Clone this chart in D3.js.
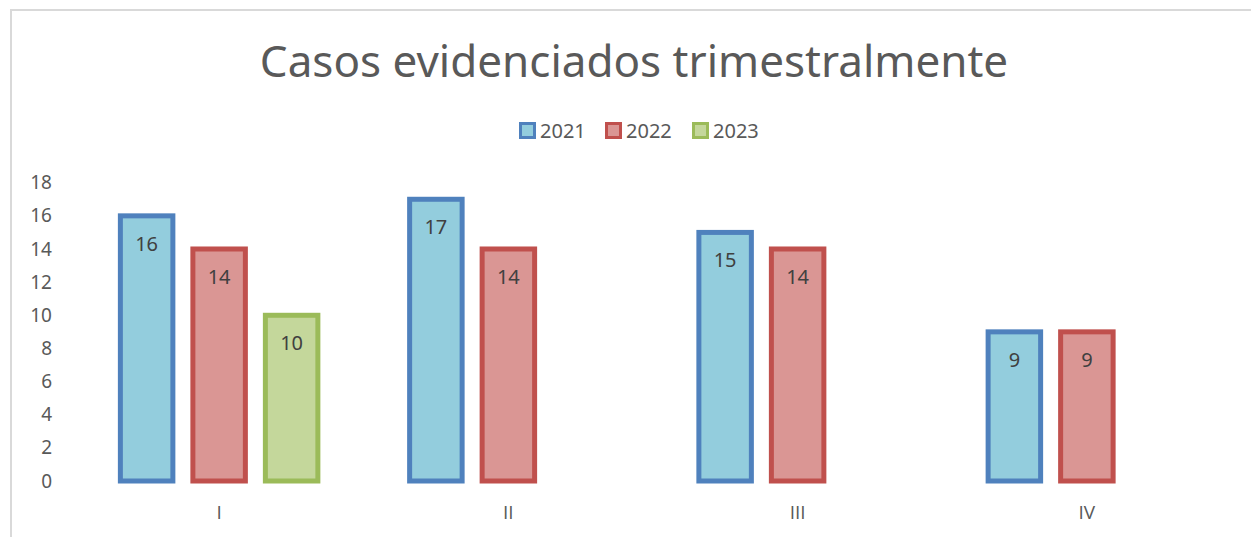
<!DOCTYPE html>
<html>
<head>
<meta charset="utf-8">
<script src="https://cdn.jsdelivr.net/npm/d3@7"></script>
<style>
  body { margin: 0; background: #ffffff; }
  svg { display: block; }
</style>
</head>
<body>
<div id="chart"></div>
<script>
const categories = ["I", "II", "III", "IV"];
const series = ["2021", "2022", "2023"];
const values2021 = [16, 17, 15, 9];
const values2022 = [14, 14, 14, 9];
const values2023 = [10, null, null, null];
const yTicks = [0, 2, 4, 6, 8, 10, 12, 14, 16, 18];

const width = 1251;
const height = 537;
const font = "'Noto Sans', sans-serif";
const textColor = "#595959";

const strokeColors = { "2021": "#4F81BD", "2022": "#C0504D", "2023": "#9BBB59" };
const fillColors = { "2021": "#93CDDD", "2022": "#DA9694", "2023": "#C4D79B" };

const table = categories.map((c, i) => ({
    cat: c,
    vals: [
        { s: "2021", v: values2021[i] },
        { s: "2022", v: values2022[i] },
        { s: "2023", v: values2023[i] }
    ]
}));

const svg = d3.select("#chart")
    .append("svg")
    .attr("width", width)
    .attr("height", height);

// chart frame (only top and left edges are visible in the crop)
svg.append("rect")
    .attr("x", 11)
    .attr("y", 10)
    .attr("width", 1260)
    .attr("height", 560)
    .attr("fill", "#fff")
    .attr("stroke", "#d9d9d9")
    .attr("stroke-width", 2);

svg.append("text")
    .attr("x", 634)
    .attr("y", 77)
    .attr("text-anchor", "middle")
    .style("font-family", font)
    .style("font-size", "44px")
    .style("fill", textColor)
    .text("Casos evidenciados trimestralmente");

const x0 = d3.scaleBand().domain(categories).range([74.5, 1231.5]).padding(0);
const groupW = 217.5;
const x1 = d3.scaleBand().domain(series)
    .range([x0.bandwidth() / 2 - groupW / 2, x0.bandwidth() / 2 + groupW / 2])
    .paddingInner(0.207)
    .paddingOuter(0.1035);
const y = d3.scaleLinear().domain([0, 18]).range([481, 182.7]);

// y axis labels
const yAxisGroup = svg.append("g")
    .attr("transform", "translate(74,0)")
    .call(d3.axisLeft(y).tickValues(yTicks).tickSize(0).tickPadding(22));
yAxisGroup.select(".domain").remove();
yAxisGroup.selectAll("text")
    .style("font-family", font)
    .style("font-size", "19px")
    .style("fill", textColor);

// x axis labels
const xAxisGroup = svg.append("g")
    .attr("transform", "translate(0,481)")
    .call(d3.axisBottom(x0).tickSize(0).tickPadding(25));
xAxisGroup.select(".domain").remove();
xAxisGroup.selectAll("text")
    .style("font-family", "'Open Sans', sans-serif")
    .style("font-size", "19px")
    .style("fill", textColor);

const sw = 5;
const groups = svg.selectAll(".grp")
    .data(table)
    .enter()
    .append("g")
    .attr("class", "grp")
    .attr("transform", d => `translate(${x0(d.cat)},0)`);

const bars = groups.selectAll(".bar")
    .data(d => d.vals.filter(e => e.v != null))
    .enter();

bars.append("rect")
    .attr("class", "bar")
    .attr("x", d => x1(d.s) + sw / 2)
    .attr("y", d => y(d.v))
    .attr("width", x1.bandwidth() - sw)
    .attr("height", d => y(0) - y(d.v))
    .attr("fill", d => fillColors[d.s])
    .attr("stroke", d => strokeColors[d.s])
    .attr("stroke-width", sw);

bars.append("text")
    .attr("x", d => x1(d.s) + x1.bandwidth() / 2)
    .attr("y", d => y(d.v) + 35)
    .attr("text-anchor", "middle")
    .style("font-family", font)
    .style("font-size", "20px")
    .style("fill", "#404040")
    .text(d => d.v);

// legend
const legendX = [519, 605, 692];
const legend = svg.selectAll(".leg")
    .data(series)
    .enter()
    .append("g")
    .attr("class", "leg")
    .attr("transform", (d, i) => `translate(${legendX[i]},122)`);
legend.append("rect")
    .attr("x", 1.5)
    .attr("y", 1.5)
    .attr("width", 14)
    .attr("height", 14)
    .attr("fill", d => fillColors[d])
    .attr("stroke", d => strokeColors[d])
    .attr("stroke-width", 3);
legend.append("text")
    .attr("x", 21)
    .attr("y", 16)
    .style("font-family", font)
    .style("font-size", "20px")
    .style("fill", textColor)
    .text(d => d);
</script>
</body>
</html>
